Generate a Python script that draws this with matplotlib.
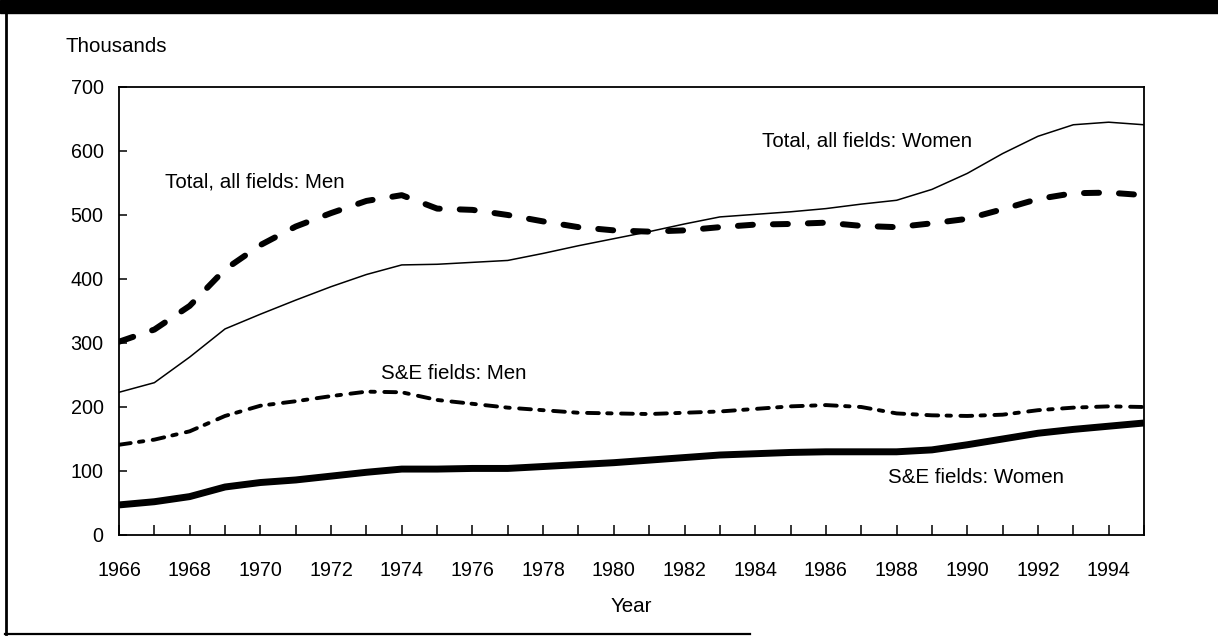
import matplotlib.pyplot as plt
from matplotlib.patches import Rectangle
from matplotlib.lines import Line2D

plt.rcParams['font.family'] = ['Liberation Sans', 'DejaVu Sans']
plt.rcParams['lines.scale_dashes'] = False

years = list(range(1966, 1996))

# thousands of students
total_men = [302, 321, 358, 415, 453, 482, 503, 522, 531, 510,
             508, 500, 490, 481, 476, 474, 476, 481, 485, 486,
             488, 483, 481, 487, 494, 509, 525, 534, 535, 531]
total_women = [223, 238, 278, 322, 345, 367, 388, 407, 422, 423,
               426, 429, 440, 452, 463, 474, 486, 497, 501, 505,
               510, 517, 523, 540, 565, 596, 623, 641, 645, 641]
se_men = [141, 149, 162, 186, 202, 209, 217, 224, 223, 211,
          205, 199, 195, 191, 190, 189, 191, 193, 197, 201,
          203, 200, 190, 187, 186, 188, 195, 199, 201, 200]
se_women = [47, 52, 60, 75, 82, 86, 92, 98, 103, 103,
            104, 104, 107, 110, 113, 117, 121, 125, 127, 129,
            130, 130, 130, 133, 141, 150, 159, 165, 170, 175]

labels = ["Total, all fields: Men", "Total, all fields: Women",
          "S&E fields: Men", "S&E fields: Women"]
label_pos = [(1967.3, 551), (1984.2, 616), (1973.4, 253), (1987.75, 90)]

y_ticks = [0, 100, 200, 300, 400, 500, 600, 700]
x_labels = list(range(1966, 1995, 2))

fig = plt.figure(figsize=(12.18, 6.42), dpi=100)
ax = fig.add_axes([119 / 1218, 1 - 535 / 642, 1025 / 1218, 448 / 642])

ax.plot(years, total_women, color='black', linewidth=1.1)
ax.plot(years, se_women, color='black', linewidth=5, solid_capstyle='butt')
ax.plot(years, total_men, color='black', linewidth=4.3,
        dashes=(10.8, 14.4), dash_capstyle='round')
ax.plot(years, se_men, color='black', linewidth=2.8,
        dashes=(8.5, 6.0, 3.2, 6.8), dash_capstyle='round')

for text, (x, y) in zip(labels, label_pos):
    ax.text(x, y, text, fontsize=14.8, ha='left', va='center')

ax.set_xlim(1966, 1995)
ax.set_ylim(0, 700)
ax.set_yticks(y_ticks)
ax.set_xticks(years, minor=True)
ax.set_xticks(x_labels)
ax.tick_params(axis='both', which='both', direction='in', width=1.1,
               labelsize=14.2, colors='black')
ax.tick_params(axis='x', which='both', length=7, pad=19)
ax.tick_params(axis='y', length=6, pad=11)
for s in ax.spines.values():
    s.set_linewidth(1.3)

ax.set_xlabel("Year", fontsize=14.8, labelpad=12)
fig.text(66 / 1218, 1 - 47 / 642, "Thousands", fontsize=14.8, ha='left', va='center')

# scanned page frame
fig.patches.append(Rectangle((0, 1 - 13 / 642), 1, 13 / 642, transform=fig.transFigure,
                             color='black', zorder=5))
fig.lines.append(Line2D([6 / 1218, 6 / 1218], [1 - 10 / 642, 1 - 634 / 642],
                        transform=fig.transFigure, color='black', linewidth=2))
fig.lines.append(Line2D([5 / 1218, 750 / 1218], [1 - 634 / 642, 1 - 634 / 642],
                        transform=fig.transFigure, color='black', linewidth=1.6))

fig.savefig("out.png", dpi=100)
